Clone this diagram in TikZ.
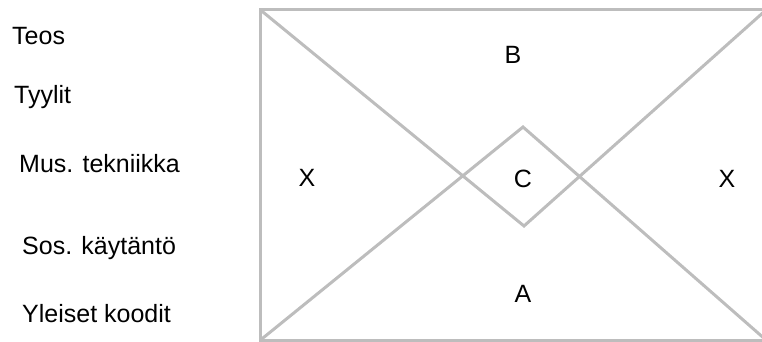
\documentclass[tikz,border=0pt]{standalone}
\usepackage{fontspec}
\setmainfont{Liberation Sans}
\definecolor{linegray}{RGB}{189,189,189}
\begin{document}
\begin{tikzpicture}[x=1pt,y=-1pt,
  lbl/.style={inner sep=0pt,font=\fontsize{25}{30}\selectfont,anchor=base west},
  letter/.style={inner sep=0pt,font=\fontsize{25}{30}\selectfont,anchor=base},
  frameline/.style={draw=linegray,line width=3pt}]
\useasboundingbox (0,0) rectangle (762,342);
\begin{scope}
\clip (0,0) rectangle (762,342);
\coordinate (tl) at (260.5,10);
\coordinate (tr) at (766,10);
\coordinate (bl) at (260.5,340);
\coordinate (br) at (766,340);
\coordinate (dtop) at (523,127);
\coordinate (dbot) at (524,226);
\draw[frameline] (tl) rectangle (br);
\draw[frameline] (tl) -- (dbot) -- (tr);
\draw[frameline] (bl) -- (dtop) -- (br);
\end{scope}
\node[lbl] (teos) at (12,45) {Teos};
\node[lbl] (tyylit) at (14,103) {Tyylit};
\node[lbl] (mus) at (19,172) {Mus. tekniikka};
\node[lbl] (sos) at (22,254) {Sos. käytäntö};
\node[lbl] (yleiset) at (22,322) {Yleiset koodit};
\node[letter] (b) at (513,64) {B};
\node[letter] (xl) at (307,186) {X};
\node[letter] (c) at (523,187) {C};
\node[letter] (xr) at (727,187) {X};
\node[letter] (a) at (523,302) {A};
\end{tikzpicture}
\end{document}
